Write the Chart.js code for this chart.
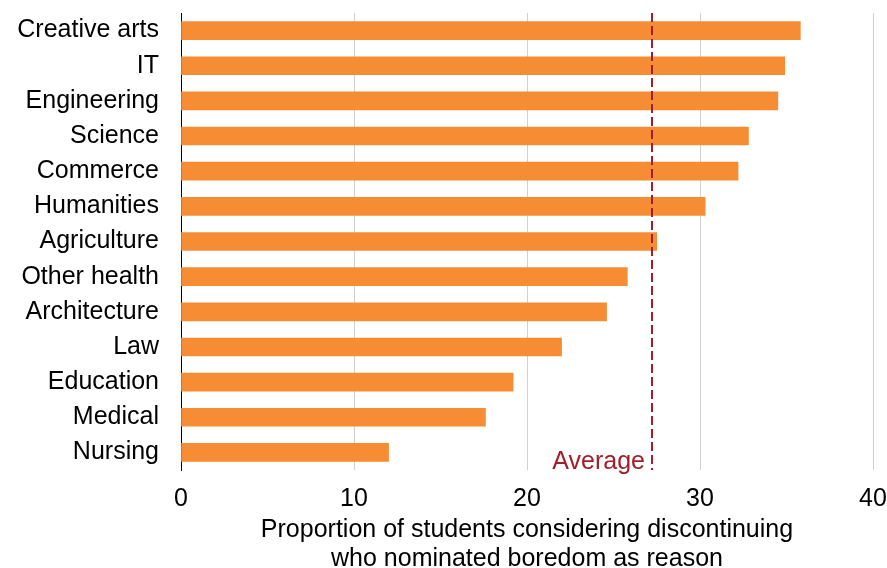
<!DOCTYPE html>
<html>
<head>
<meta charset="utf-8">
<script src="https://cdn.jsdelivr.net/npm/chart.js@4/dist/chart.umd.min.js"></script>
<style>
    html, body { margin: 0; padding: 0; background: #fff; }
    #wrap { width: 887px; height: 568px; position: relative; }
</style>
</head>
<body>
<div id="wrap"><canvas id="chart"></canvas></div>
<script>
// 데이터
const fields = ['Creative arts', 'IT', 'Engineering', 'Science', 'Commerce', 'Humanities',
    'Agriculture', 'Other health', 'Architecture', 'Law', 'Education', 'Medical', 'Nursing'];
const boredomShare = [35.8, 34.9, 34.5, 32.8, 32.2, 30.3, 27.5, 25.8, 24.6, 22.0, 19.2, 17.6, 12.0];
const averageShare = 27.2;
const xTicks = [0, 10, 20, 30, 40];
const xTitle = ['Proportion of students considering discontinuing', 'who nominated boredom as reason'];

const FONT = 'Arial, "Liberation Sans", Helvetica, sans-serif';
const AVG_COLOR = 'rgb(163, 30, 42)';

// 평균선 플러그인
const averageLine = {
    id: 'averageLine',
    afterDatasetsDraw(chart) {
        const { ctx, chartArea, scales } = chart;
        const x = Math.round(scales.x.getPixelForValue(averageShare));
        ctx.save();
        ctx.strokeStyle = AVG_COLOR;
        ctx.lineWidth = 2;
        ctx.setLineDash([9, 4]);
        ctx.beginPath();
        ctx.moveTo(x, chartArea.top);
        ctx.lineTo(x, chartArea.bottom);
        ctx.stroke();
        ctx.setLineDash([]);
        ctx.fillStyle = AVG_COLOR;
        ctx.font = '25px ' + FONT;
        ctx.textAlign = 'right';
        ctx.textBaseline = 'middle';
        ctx.fillText('Average', x - 7, chartArea.bottom - 8);
        ctx.restore();
    }
};

new Chart(document.getElementById('chart').getContext('2d'), {
    type: 'bar',
    data: {
        labels: fields,
        datasets: [{
            data: boredomShare,
            backgroundColor: 'rgb(246, 141, 52)',
            borderWidth: 0,
            barThickness: 18,
        }]
    },
    options: {
        indexAxis: 'y',
        responsive: true,
        maintainAspectRatio: false,
        animation: false,
        layout: { padding: { top: 13, right: 14, left: 0, bottom: 0 } },
        plugins: {
            legend: { display: false },
            tooltip: { enabled: false },
        },
        scales: {
            x: {
                min: 0,
                max: 40,
                afterBuildTicks: scale => { scale.ticks = xTicks.map(v => ({ value: v })); },
                afterFit: scale => {
                    scale.height = 98;
                    scale.paddingLeft = 0;
                    scale.paddingRight = 0;
                },
                grid: {
                    color: c => c.tick && c.tick.value === 0 ? 'rgba(0,0,0,0)' : 'rgb(208, 208, 208)',
                    lineWidth: 1,
                    drawTicks: false,
                },
                border: { display: false },
                ticks: {
                    color: '#000',
                    font: { family: FONT, size: 25 },
                    padding: 14,
                },
                title: {
                    display: true,
                    text: xTitle,
                    color: '#000',
                    font: { family: FONT, size: 25, lineHeight: 1.16 },
                    padding: { top: 0, bottom: -6 },
                }
            },
            y: {
                afterFit: scale => {
                    scale.width = 181;
                    scale.paddingTop = 0;
                    scale.paddingBottom = 0;
                },
                grid: { display: false, drawTicks: false },
                border: { display: true, color: '#000', width: 1 },
                ticks: {
                    color: '#000',
                    font: { family: FONT, size: 25 },
                    padding: 22,
                }
            }
        }
    },
    plugins: [averageLine]
});
</script>
</body>
</html>
